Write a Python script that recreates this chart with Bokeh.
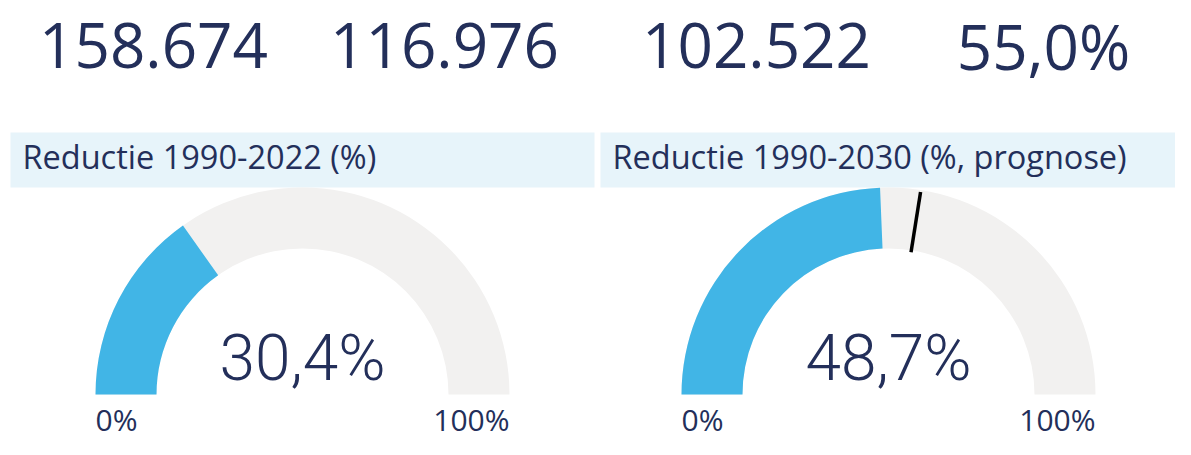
import math
from bokeh.plotting import figure
from bokeh.models import Range1d
from bokeh.core.properties import value
from bokeh.embed import file_html
from bokeh.resources import INLINE

# ---- data ----
kpi_values = ["158.674", "116.976", "102.522", "55,0%"]
gauge_titles = ["Reductie 1990-2022 (%)", "Reductie 1990-2030 (%, prognose)"]
gauge_values = [30.4, 48.7]
gauge_labels = ["30,4%", "48,7%"]
gauge_targets = [None, 55.0]
gauge_min = [0, 0]
gauge_max = [100, 100]
min_labels = ["0%", "0%"]
max_labels = ["100%", "100%"]

# ---- layout / style ----
W, H = 1175, 439
NAVY = "#232F5A"
BLUE = "#41B5E6"
GRAY = "#F2F1F0"
HEAD = "#E7F4FA"

p = figure(width=W, height=H, x_range=Range1d(0, W), y_range=Range1d(0, H),
           output_backend="svg", toolbar_location=None,
           x_axis_location=None, y_axis_location=None, min_border=0)
p.grid.visible = False
p.outline_line_color = None
p.background_fill_color = "white"

# KPI cards
kpi_x = [153, 444, 756, 1043]
p.text(x=kpi_x, y=[394] * 4, text=kpi_values, text_align="center",
       text_baseline="middle", text_font=value("Open Sans"),
       text_font_size="62px", text_color=NAVY)

# gauges
head_left = [10, 600]
head_right = [594, 1176]
centers = [302, 888]
cy = 45
r_in, r_out = 146, 207

p.quad(left=head_left, right=head_right, top=[307, 307], bottom=[252, 252],
       fill_color=HEAD, line_color=None)
p.text(x=[22, 612], y=[283, 283], text=gauge_titles, text_align="left",
       text_baseline="middle", text_font=value("Open Sans"),
       text_font_size="32.5px", text_color=NAVY)

for i in range(2):
    cx = centers[i]
    frac = (gauge_values[i] - gauge_min[i]) / (gauge_max[i] - gauge_min[i])
    p.annular_wedge(x=[cx], y=[cy], inner_radius=r_in, outer_radius=r_out,
                    start_angle=0, end_angle=math.pi, fill_color=GRAY, line_color=None)
    p.annular_wedge(x=[cx], y=[cy], inner_radius=r_in, outer_radius=r_out,
                    start_angle=math.pi * (1 - frac), end_angle=math.pi,
                    fill_color=BLUE, line_color=None)
    if gauge_targets[i] is not None:
        tf = (gauge_targets[i] - gauge_min[i]) / (gauge_max[i] - gauge_min[i])
        a = math.pi * (1 - tf)
        p.segment(x0=[cx + (r_in - 2) * math.cos(a)], y0=[cy + (r_in - 2) * math.sin(a)],
                  x1=[cx + (r_out - 2) * math.cos(a)], y1=[cy + (r_out - 2) * math.sin(a)],
                  line_color="black", line_width=3.5)

p.text(x=centers, y=[81, 81], text=gauge_labels, text_align="center",
       text_baseline="middle", text_font=value("Roboto Light"),
       text_font_size="64px", text_color=NAVY)
p.text(x=[c - r_out for c in centers], y=[20, 20], text=min_labels, text_align="left",
       text_baseline="middle", text_font=value("Open Sans"),
       text_font_size="30px", text_color=NAVY)
p.text(x=[c + r_out for c in centers], y=[20, 20], text=max_labels, text_align="right",
       text_baseline="middle", text_font=value("Open Sans"),
       text_font_size="30px", text_color=NAVY)

open("out.html", "w").write(file_html(p, INLINE))
